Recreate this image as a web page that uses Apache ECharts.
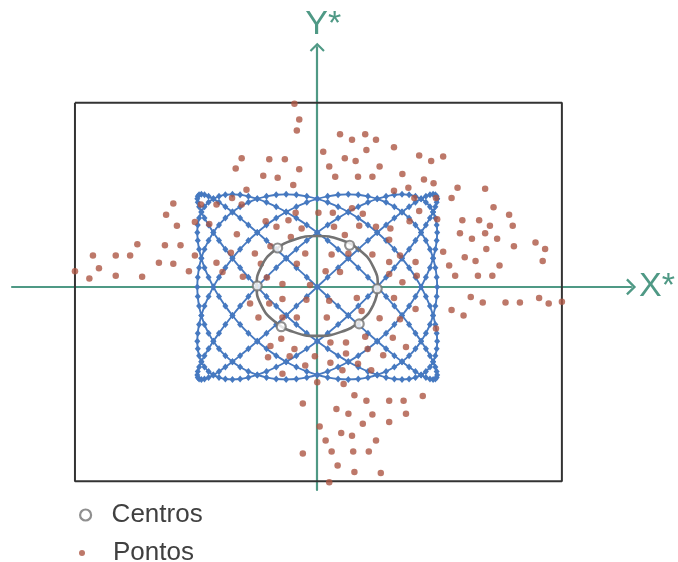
<!DOCTYPE html>
<html><head><meta charset="utf-8">
<script src="https://cdn.jsdelivr.net/npm/echarts@6/dist/echarts.min.js"></script>
<style>html,body{margin:0;padding:0;background:#fff}#c{width:678px;height:562px}</style>
</head><body><div id="c"></div>
<script>
// Scattered sample points (X*, Y*)
const pontos = [
[-0.19,1.98],[-0.15,1.81],[-0.17,1.69],[-0.63,1.39],[-0.68,1.28],[-0.40,1.38],[-0.27,1.38],[-0.15,1.27],
[-0.45,1.20],[-0.33,1.18],[-0.20,1.10],[-0.59,1.05],[-0.71,0.96],[0.19,1.65],[0.29,1.59],[0.40,1.65],
[0.49,1.59],[0.05,1.46],[0.41,1.48],[0.64,1.51],[0.23,1.39],[0.32,1.36],[0.52,1.30],[0.10,1.30],
[0.85,1.42],[0.95,1.36],[1.05,1.41],[0.15,1.19],[0.34,1.19],[0.46,1.19],[0.71,1.22],[0.89,1.16],
[0.97,1.12],[0.64,1.04],[0.76,1.07],[1.17,1.07],[1.40,1.06],[0.81,0.96],[0.99,0.96],[1.12,0.96],
[1.47,0.86],[1.60,0.78],[1.00,0.73],[1.21,0.72],[1.35,0.72],[1.44,0.66],[1.63,0.66],[1.19,0.58],
[1.40,0.58],[1.29,0.52],[1.50,0.52],[1.82,0.48],[1.90,0.41],[1.64,0.44],[1.05,0.38],[1.41,0.41],
[1.23,0.32],[1.32,0.28],[1.88,0.28],[1.10,0.23],[1.52,0.23],[1.15,0.12],[1.34,0.12],[1.46,0.12],
[1.28,-0.11],[1.38,-0.17],[1.57,-0.17],[1.69,-0.17],[1.85,-0.12],[1.93,-0.18],[2.04,-0.16],[1.12,-0.25],
[1.22,-0.31],
[-1.20,0.90],[-1.26,0.78],[-0.97,0.89],[-1.02,0.70],[-1.17,0.66],[-0.90,0.68],[-1.50,0.46],[-1.27,0.45],
[-1.14,0.45],[-1.87,0.34],[-1.68,0.34],[-1.56,0.34],[-1.02,0.34],[-1.32,0.26],[-1.20,0.25],[-1.82,0.20],
[-2.02,0.17],[-1.90,0.09],[-1.68,0.12],[-1.46,0.11],[-1.07,0.17],
[-0.29,-0.94],[0.21,-0.90],[0.45,-0.90],[0.00,-1.03],[0.22,-1.05],[0.31,-1.17],[0.88,-1.18],[-0.12,-1.26],
[0.41,-1.23],[0.60,-1.23],[0.72,-1.23],[0.16,-1.32],[0.26,-1.37],[0.46,-1.38],[0.74,-1.37],[0.38,-1.48],
[0.60,-1.46],[0.02,-1.51],[0.20,-1.58],[0.29,-1.61],[0.07,-1.66],[0.49,-1.66],[-0.12,-1.80],[0.12,-1.78],
[0.30,-1.78],[0.43,-1.78],[0.17,-1.93],[0.31,-2.00],[0.53,-2.01],[0.10,-2.11],
[-0.84,0.89],[-0.63,0.89],[-0.43,0.71],[-0.24,0.72],[-0.34,0.65],[-0.18,0.80],[-0.67,0.57],[-0.13,0.63],
[-0.22,0.54],[-0.52,0.36],[-0.39,0.44],[-0.10,0.36],[-0.72,0.37],[-0.84,0.26],[-0.47,0.25],[-0.17,0.25],
[-0.79,0.16],[-0.62,0.11],[-0.42,0.10],[-0.29,0.03],[-0.06,0.02],
[0.01,0.80],[0.13,0.80],[0.29,0.85],[0.38,0.79],[0.14,0.65],[0.35,0.66],[0.49,0.65],[0.61,0.63],
[0.77,0.71],[0.85,0.82],[0.23,0.56],[0.60,0.51],[0.69,0.34],[0.46,0.35],[0.12,0.35],[0.26,0.36],
[0.60,0.27],[0.07,0.17],[0.19,0.16],[0.82,0.27],[0.83,0.12],[0.60,0.14],[0.71,0.05],
[-0.56,-0.18],[-0.40,-0.18],[-0.29,-0.13],[-0.09,-0.14],[-0.49,-0.33],[-0.29,-0.33],[-0.17,-0.33],[-0.30,-0.56],
[-0.39,-0.64],[-0.19,-0.67],[-0.41,-0.76],[-0.23,-0.75],[-0.10,-0.85],[-0.02,-0.75],
[0.10,-0.15],[0.33,-0.12],[0.64,-0.12],[0.08,-0.33],[0.37,-0.26],[0.52,-0.34],[0.82,-0.24],[0.69,-0.35],
[0.11,-0.60],[0.24,-0.60],[0.40,-0.54],[0.63,-0.55],[0.74,-0.65],[0.24,-0.72],[0.42,-0.67],[0.55,-0.74],
[0.99,-0.45],[0.11,-0.82],[0.34,-0.83]
];

// Lissajous trace (5 horizontal turns against 6 vertical), one sample per step
const curvaX = [
1,.996,.985,.966,.94,.906,.866,.819,.766,.707,.643,.574,.5,.423,.342,.259,.174,.087,0,-.087,-.174,-.259,-.342,-.423,-.5,-.574,-.643,-.707,-.766,-.819,-.866,-.906,-.94,-.966,-.985,-.996,-1,-.996,-.985,-.966,-.94,-.906,-.866,-.819,-.766,-.707,-.643,-.574,-.5,-.423,-.342,-.259,-.174,-.087,0,.087,.174,.259,.342,.423,.5,.574,.643,.707,.766,.819,.866,.906,.94,.966,.985,.996,
1,.996,.985,.966,.94,.906,.866,.819,.766,.707,.643,.574,.5,.423,.342,.259,.174,.087,0,-.087,-.174,-.259,-.342,-.423,-.5,-.574,-.643,-.707,-.766,-.819,-.866,-.906,-.94,-.966,-.985,-.996,-1,-.996,-.985,-.966,-.94,-.906,-.866,-.819,-.766,-.707,-.643,-.574,-.5,-.423,-.342,-.259,-.174,-.087,0,.087,.174,.259,.342,.423,.5,.574,.643,.707,.766,.819,.866,.906,.94,.966,.985,.996,
1,.996,.985,.966,.94,.906,.866,.819,.766,.707,.643,.574,.5,.423,.342,.259,.174,.087,0,-.087,-.174,-.259,-.342,-.423,-.5,-.574,-.643,-.707,-.766,-.819,-.866,-.906,-.94,-.966,-.985,-.996,-1,-.996,-.985,-.966,-.94,-.906,-.866,-.819,-.766,-.707,-.643,-.574,-.5,-.423,-.342,-.259,-.174,-.087,0,.087,.174,.259,.342,.423,.5,.574,.643,.707,.766,.819,.866,.906,.94,.966,.985,.996,
1,.996,.985,.966,.94,.906,.866,.819,.766,.707,.643,.574,.5,.423,.342,.259,.174,.087,0,-.087,-.174,-.259,-.342,-.423,-.5,-.574,-.643,-.707,-.766,-.819,-.866,-.906,-.94,-.966,-.985,-.996,-1,-.996,-.985,-.966,-.94,-.906,-.866,-.819,-.766,-.707,-.643,-.574,-.5,-.423,-.342,-.259,-.174,-.087,0,.087,.174,.259,.342,.423,.5,.574,.643,.707,.766,.819,.866,.906,.94,.966,.985,.996,
1,.996,.985,.966,.94,.906,.866,.819,.766,.707,.643,.574,.5,.423,.342,.259,.174,.087,0,-.087,-.174,-.259,-.342,-.423,-.5,-.574,-.643,-.707,-.766,-.819,-.866,-.906,-.94,-.966,-.985,-.996,-1,-.996,-.985,-.966,-.94,-.906,-.866,-.819,-.766,-.707,-.643,-.574,-.5,-.423,-.342,-.259,-.174,-.087,0,.087,.174,.259,.342,.423,.5,.574,.643,.707,.766,.819,.866,.906,.94,.966,.985,.996
];
const curvaY = [
.951,.914,.866,.809,.743,.669,.588,.5,.407,.309,.208,.105,0,-.105,-.208,-.309,-.407,-.5,-.588,-.669,-.743,-.809,-.866,-.914,-.951,-.978,-.995,-1,-.995,-.978,-.951,-.914,-.866,-.809,-.743,-.669,-.588,-.5,-.407,-.309,-.208,-.105,0,.105,.208,.309,.407,.5,.588,.669,.743,.809,.866,.914,.951,.978,.995,1,.995,.978,
.951,.914,.866,.809,.743,.669,.588,.5,.407,.309,.208,.105,0,-.105,-.208,-.309,-.407,-.5,-.588,-.669,-.743,-.809,-.866,-.914,-.951,-.978,-.995,-1,-.995,-.978,-.951,-.914,-.866,-.809,-.743,-.669,-.588,-.5,-.407,-.309,-.208,-.105,0,.105,.208,.309,.407,.5,.588,.669,.743,.809,.866,.914,.951,.978,.995,1,.995,.978,
.951,.914,.866,.809,.743,.669,.588,.5,.407,.309,.208,.105,0,-.105,-.208,-.309,-.407,-.5,-.588,-.669,-.743,-.809,-.866,-.914,-.951,-.978,-.995,-1,-.995,-.978,-.951,-.914,-.866,-.809,-.743,-.669,-.588,-.5,-.407,-.309,-.208,-.105,0,.105,.208,.309,.407,.5,.588,.669,.743,.809,.866,.914,.951,.978,.995,1,.995,.978,
.951,.914,.866,.809,.743,.669,.588,.5,.407,.309,.208,.105,0,-.105,-.208,-.309,-.407,-.5,-.588,-.669,-.743,-.809,-.866,-.914,-.951,-.978,-.995,-1,-.995,-.978,-.951,-.914,-.866,-.809,-.743,-.669,-.588,-.5,-.407,-.309,-.208,-.105,0,.105,.208,.309,.407,.5,.588,.669,.743,.809,.866,.914,.951,.978,.995,1,.995,.978,
.951,.914,.866,.809,.743,.669,.588,.5,.407,.309,.208,.105,0,-.105,-.208,-.309,-.407,-.5,-.588,-.669,-.743,-.809,-.866,-.914,-.951,-.978,-.995,-1,-.995,-.978,-.951,-.914,-.866,-.809,-.743,-.669,-.588,-.5,-.407,-.309,-.208,-.105,0,.105,.208,.309,.407,.5,.588,.669,.743,.809,.866,.914,.951,.978,.995,1,.995,.978,
.951,.914,.866,.809,.743,.669,.588,.5,.407,.309,.208,.105,0,-.105,-.208,-.309,-.407,-.5,-.588,-.669,-.743,-.809,-.866,-.914,-.951,-.978,-.995,-1,-.995,-.978,-.951,-.914,-.866,-.809,-.743,-.669,-.588,-.5,-.407,-.309,-.208,-.105,0,.105,.208,.309,.407,.5,.588,.669,.743,.809,.866,.914,.951,.978,.995,1,.995,.978
];

// Cluster centres and the ring through them
const centros = [[-0.50,0.01],[-0.33,0.42],[0.27,0.45],[0.50,-0.02],[0.35,-0.40],[-0.30,-0.43]];
const anel = [
[0.467,-0.197],[0.505,0.01],[0.467,0.217],[0.357,0.392],[0.193,0.509],[0,0.55],[-0.193,0.509],[-0.357,0.392],
[-0.467,0.217],[-0.505,0.01],[-0.467,-0.197],[-0.357,-0.372],[-0.193,-0.489],[0,-0.53],[0.193,-0.489],
[0.357,-0.372],[0.467,-0.197],[0.505,0.01]
];

// Outer frame
const moldura = [[-2.02,1.99],[2.04,1.99],[2.04,-2.10],[-2.02,-2.10],[-2.02,1.99]];

const curva = curvaX.map((x, i) => [x, curvaY[i]]);
curva.push(curva[0]);

const TEAL = '#4f9985', BLUE = '#4679c0', RED = '#ad5643', GREY = '#737373';
const FONT = 'Liberation Sans, Arial, sans-serif';
const seta = 'path://M0,10 L10,0 L20,10 L18,12 L10,4 L2,12 Z';

const chart = echarts.init(document.getElementById('c'), null, {renderer: 'canvas'});
chart.setOption({
  animation: false,
  backgroundColor: '#fff',
  grid: {left: 12, right: 46.5, top: 47.2, bottom: 72, containLabel: false},
  xAxis: {
    type: 'value', min: -2.545, max: 2.617,
    axisLine: {onZero: true, symbol: ['none', seta], symbolSize: [18, 10],
               lineStyle: {color: TEAL, width: 2.2}},
    axisTick: {show: false}, axisLabel: {show: false}, splitLine: {show: false},
    name: 'X*', nameLocation: 'end', nameGap: 8,
    nameTextStyle: {color: TEAL, fontSize: 34, fontFamily: FONT}
  },
  yAxis: {
    type: 'value', min: -2.195, max: 2.59,
    axisLine: {onZero: true, symbol: ['none', seta], symbolSize: [16, 9],
               lineStyle: {color: TEAL, width: 2.2}},
    axisTick: {show: false}, axisLabel: {show: false}, splitLine: {show: false},
    name: 'Y*', nameLocation: 'end', nameGap: 6,
    nameTextStyle: {color: TEAL, fontSize: 34, fontFamily: FONT, align: 'center', padding: [0, 0, 0, 12]}
  },
  legend: [
    {data: [{name: 'Centros', icon: 'circle', itemStyle: {color: '#fff', borderColor: GREY, borderWidth: 2.2}}],
     left: 74, top: 497, itemWidth: 26, itemHeight: 11,
     textStyle: {fontSize: 26, color: '#404040', fontFamily: FONT, padding: [0, 0, 0, 8]}},
    {data: [{name: 'Pontos', icon: 'circle', itemStyle: {color: RED}}],
     left: 74, top: 535, itemWidth: 26, itemHeight: 6,
     textStyle: {fontSize: 26, color: '#404040', fontFamily: FONT, padding: [0, 0, 0, 13]}}
  ],
  series: [
    {type: 'line', data: moldura, symbol: 'none', silent: true,
     lineStyle: {color: '#333', width: 2}, z: 1},
    {type: 'line', data: curva, symbol: 'diamond', symbolSize: [6, 7], showSymbol: true,
     showAllSymbol: true, smooth: 0.3, silent: true,
     itemStyle: {color: BLUE}, lineStyle: {color: BLUE, width: 1.9}, z: 2},
    {name: 'Pontos', type: 'scatter', data: pontos, symbolSize: 6.5,
     itemStyle: {color: RED}, z: 3},
    {type: 'line', data: anel, symbol: 'none', smooth: 0.5, silent: true,
     lineStyle: {color: GREY, width: 2.6}, z: 4},
    {name: 'Centros', type: 'scatter', data: centros, symbol: 'circle', symbolSize: 9,
     itemStyle: {color: '#fff', borderColor: GREY, borderWidth: 2.2}, z: 5}
  ]
});
</script></body></html>
